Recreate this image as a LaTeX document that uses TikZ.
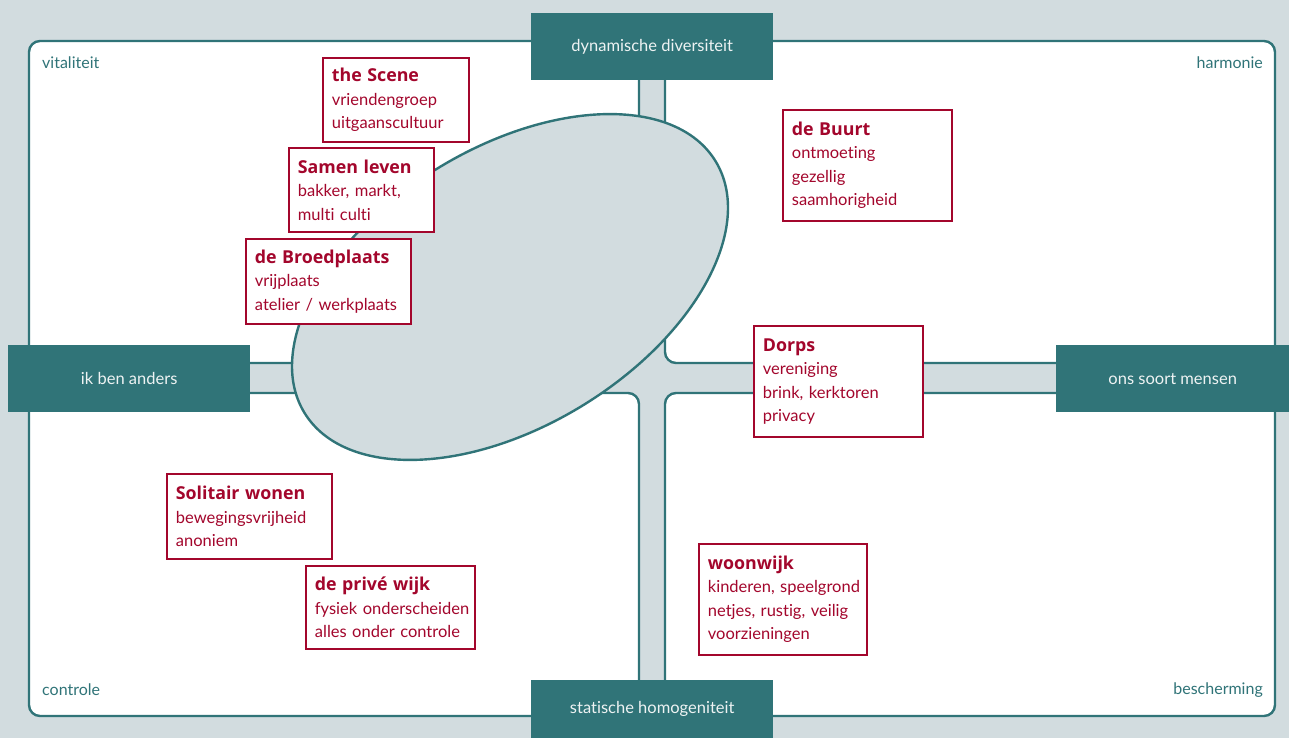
\documentclass[tikz,border=0pt]{standalone}
\usepackage{fontspec}
\setmainfont{Lato}[Ligatures=CommonOff]
\newfontfamily\titlefont{Open Sans}
\definecolor{bgrey}{HTML}{D2DCDF}
\definecolor{teal}{HTML}{307478}
\definecolor{wine}{HTML}{A3062C}
\definecolor{pale}{HTML}{EEF3F3}
\tikzset{
  quad/.style={draw=teal, line width=2.4pt, fill=white, rounded corners=11pt},
  axisbox/.style={fill=teal, text=pale, inner sep=0pt, font=\fontsize{16.5}{19}\selectfont},
  corner/.style={text=teal, inner sep=0pt, font=\fontsize{16}{19}\selectfont},
  rbox/.style={draw=wine, line width=1.8pt, fill=white, text=wine, anchor=north west,
    inner xsep=9pt, inner ysep=0pt, align=left,
    font=\fontsize{16.5}{23.5}\selectfont},
}
% bold heading line of a box; each line kept whole
\newcommand{\ttl}[1]{\mbox{\fontsize{17.8}{23.5}\titlefont\bfseries #1}}
\newcommand{\bline}[1]{\mbox{#1}}
\begin{document}
\begin{tikzpicture}[x=1pt,y=-1pt]
% canvas
\fill[bgrey] (0,0) rectangle (1289,738);
\useasboundingbox (0,0) rectangle (1289,738);
% four quadrants separated by the cross of lanes
\draw[quad] (29,41) rectangle (639,363);
\draw[quad] (665,41) rectangle (1275,363);
\draw[quad] (29,393) rectangle (639,716);
\draw[quad] (665,393) rectangle (1275,716);
% central ellipse, tilted up to the right
\draw[teal, line width=2.4pt, fill=bgrey] (510,287) ellipse[x radius=241, y radius=139, rotate=31.5];
% axis labels
\node[axisbox, minimum width=242pt, minimum height=67pt, anchor=north west] (top) at (531,13) {dynamische diversiteit};
\node[axisbox, minimum width=242pt, minimum height=58pt, anchor=north west] (bottom) at (531,680) {statische homogeniteit};
\node[axisbox, minimum width=242pt, minimum height=67pt, anchor=north west] (left) at (8,345) {ik ben anders};
\node[axisbox, minimum width=233pt, minimum height=67pt, anchor=north west] (right) at (1056,345) {ons soort mensen};
% corner labels
\node[corner, anchor=west] (vit) at (42,63) {vitaliteit};
\node[corner, anchor=east] (harm) at (1263,63) {harmonie};
\node[corner, anchor=west] (contr) at (42,690) {controle};
\node[corner, anchor=east] (besch) at (1263,690) {bescherming};
% living environments
\node[rbox, minimum width=146pt, minimum height=84pt, text width=128pt] (scene) at (322,57)
  {\ttl{the Scene}\\\bline{vriendengroep}\\\bline{uitgaanscultuur}};
\node[rbox, minimum width=145pt, minimum height=84pt, text width=127pt] (samen) at (288,147)
  {\ttl{Samen leven}\\\bline{bakker, markt,}\\\bline{multi culti}};
\node[rbox, minimum width=165pt, minimum height=85pt, text width=147pt] (broed) at (245,238)
  {\ttl{de Broedplaats}\\\bline{vrijplaats}\\\bline{atelier / werkplaats}};
\node[rbox, minimum width=169pt, minimum height=111pt, text width=151pt] (buurt) at (782,109)
  {\ttl{de Buurt}\\\bline{ontmoeting}\\\bline{gezellig}\\\bline{saamhorigheid}};
\node[rbox, minimum width=169pt, minimum height=111pt, text width=151pt] (dorps) at (753,325)
  {\ttl{Dorps}\\\bline{vereniging}\\\bline{brink, kerktoren}\\\bline{privacy}};
\node[rbox, minimum width=165pt, minimum height=85pt, text width=147pt] (solit) at (166,473)
  {\ttl{Solitair wonen}\\\bline{bewegingsvrijheid}\\\bline{anoniem}};
\node[rbox, minimum width=169pt, minimum height=83pt, text width=151pt] (prive) at (305,565)
  {\ttl{de privé wijk}\\\bline{fysiek onderscheiden}\\\bline{alles onder controle}};
\node[rbox, minimum width=168pt, minimum height=111pt, text width=150pt] (woon) at (698,543)
  {\ttl{woonwijk}\\\bline{kinderen, speelgrond}\\\bline{netjes, rustig, veilig}\\\bline{voorzieningen}};
\end{tikzpicture}
\end{document}
